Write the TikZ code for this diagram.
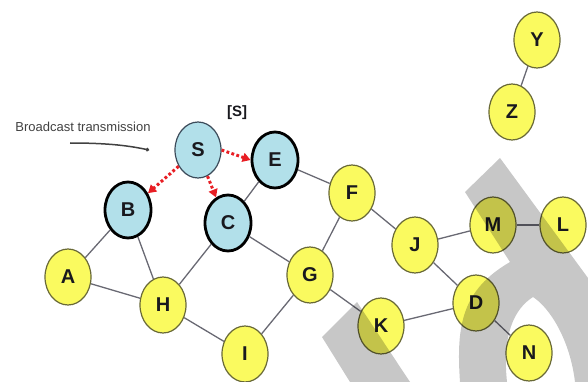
\documentclass[tikz,border=0pt]{standalone}
\usepackage{fontspec}
\setmainfont{Liberation Sans}
\usetikzlibrary{shapes.geometric, arrows.meta}
\definecolor{nodeyellow}{RGB}{250,250,95}
\definecolor{nodeblue}{RGB}{178,224,234}
\definecolor{rimolive}{RGB}{105,105,55}
\definecolor{rimslate}{RGB}{60,75,90}
\definecolor{linkgrey}{RGB}{105,105,115}
\definecolor{bcastred}{RGB}{232,30,36}
\definecolor{inkdark}{RGB}{25,25,30}
\definecolor{notegrey}{RGB}{65,65,65}
\tikzset{
  host/.style={ellipse,draw=rimolive,fill=nodeyellow,minimum width=46pt,minimum height=56pt,
    inner sep=0pt,font=\fontsize{20}{20}\selectfont\bfseries,text=inkdark,line width=1.2pt},
  reached/.style={host,fill=nodeblue,draw=black,line width=2.8pt},
  source/.style={host,fill=nodeblue,draw=rimslate,line width=1.2pt},
  link/.style={draw=linkgrey,line width=1.3pt},
  bcast/.style={-{Triangle[length=8pt,width=9pt]},color=bcastred,line width=3pt,
    dash pattern=on 2.8pt off 2.4pt},
  note/.style={-{Circle[length=3.5pt]},color=notegrey,line width=1.5pt},
  watermark/.style={fill=black,opacity=0.22}
}
\begin{document}
\begin{tikzpicture}[x=1pt,y=-1pt]
  \useasboundingbox (0,0) rectangle (588,382);

  % ── Hosts ────────────────────────────────────────────────────────────────
  \node[source]  (S) at (198,150) {S};
  \node[reached] (E) at (275,160) {E};
  \node[reached] (B) at (128,210) {B};
  \node[reached] (C) at (228,223) {C};
  \node[host] (Y) at (537,40)  {Y};
  \node[host] (Z) at (512,112) {Z};
  \node[host] (F) at (352,193) {F};
  \node[host] (J) at (415,245) {J};
  \node[host] (M) at (493,225) {M};
  \node[host] (L) at (563,225) {L};
  \node[host] (A) at (68,277)  {A};
  \node[host] (H) at (163,305) {H};
  \node[host] (G) at (310,275) {G};
  \node[host] (D) at (476,303) {D};
  \node[host] (K) at (381,326) {K};
  \node[host] (I) at (245,354) {I};
  \node[host] (N) at (529,353) {N};

  % ── Links ────────────────────────────────────────────────────────────────
  \foreach \u/\v in {Y/Z, E/F, E/C, F/J, F/G, J/M, M/L, J/D, D/K, D/N,
                     G/K, G/C, G/I, C/H, B/H, B/A, A/H, H/I}
    \draw[link] (\u) -- (\v);

  % ── Broadcast from S ─────────────────────────────────────────────────────
  \draw[bcast] (S.east) -- (E.west);
  \draw[bcast] (S.220) -- (B.40);
  \draw[bcast] (S.290) -- (C.115);

  % ── Labels ───────────────────────────────────────────────────────────────
  \node[font=\fontsize{15}{15}\selectfont\bfseries,text=inkdark] (tag) at (237,113) {[S]};
  \node[font=\fontsize{13}{14}\selectfont,text=notegrey] (caption) at (83,127) {Broadcast transmission};
  \coordinate (tail) at (70,143);
  \coordinate (tip) at (149,150);
  \draw[note] (tail) .. controls (110,143) and (130,146) .. (tip);

  % ── Watermark ────────────────────────────────────────────────────────────
  \fill[watermark] (322,337) -- (357,302) -- (410,382) -- (350,382) -- cycle;
  \fill[watermark] (465,192) -- (500,158) -- (588,278) -- (588,382) -- (575,382)
    .. controls (570,340) and (550,308) .. (533,297)
    .. controls (514,309) and (502,335) .. (507,382) -- (460,382)
    .. controls (456,325) and (462,290) .. (510,262) -- cycle;
\end{tikzpicture}
\end{document}
